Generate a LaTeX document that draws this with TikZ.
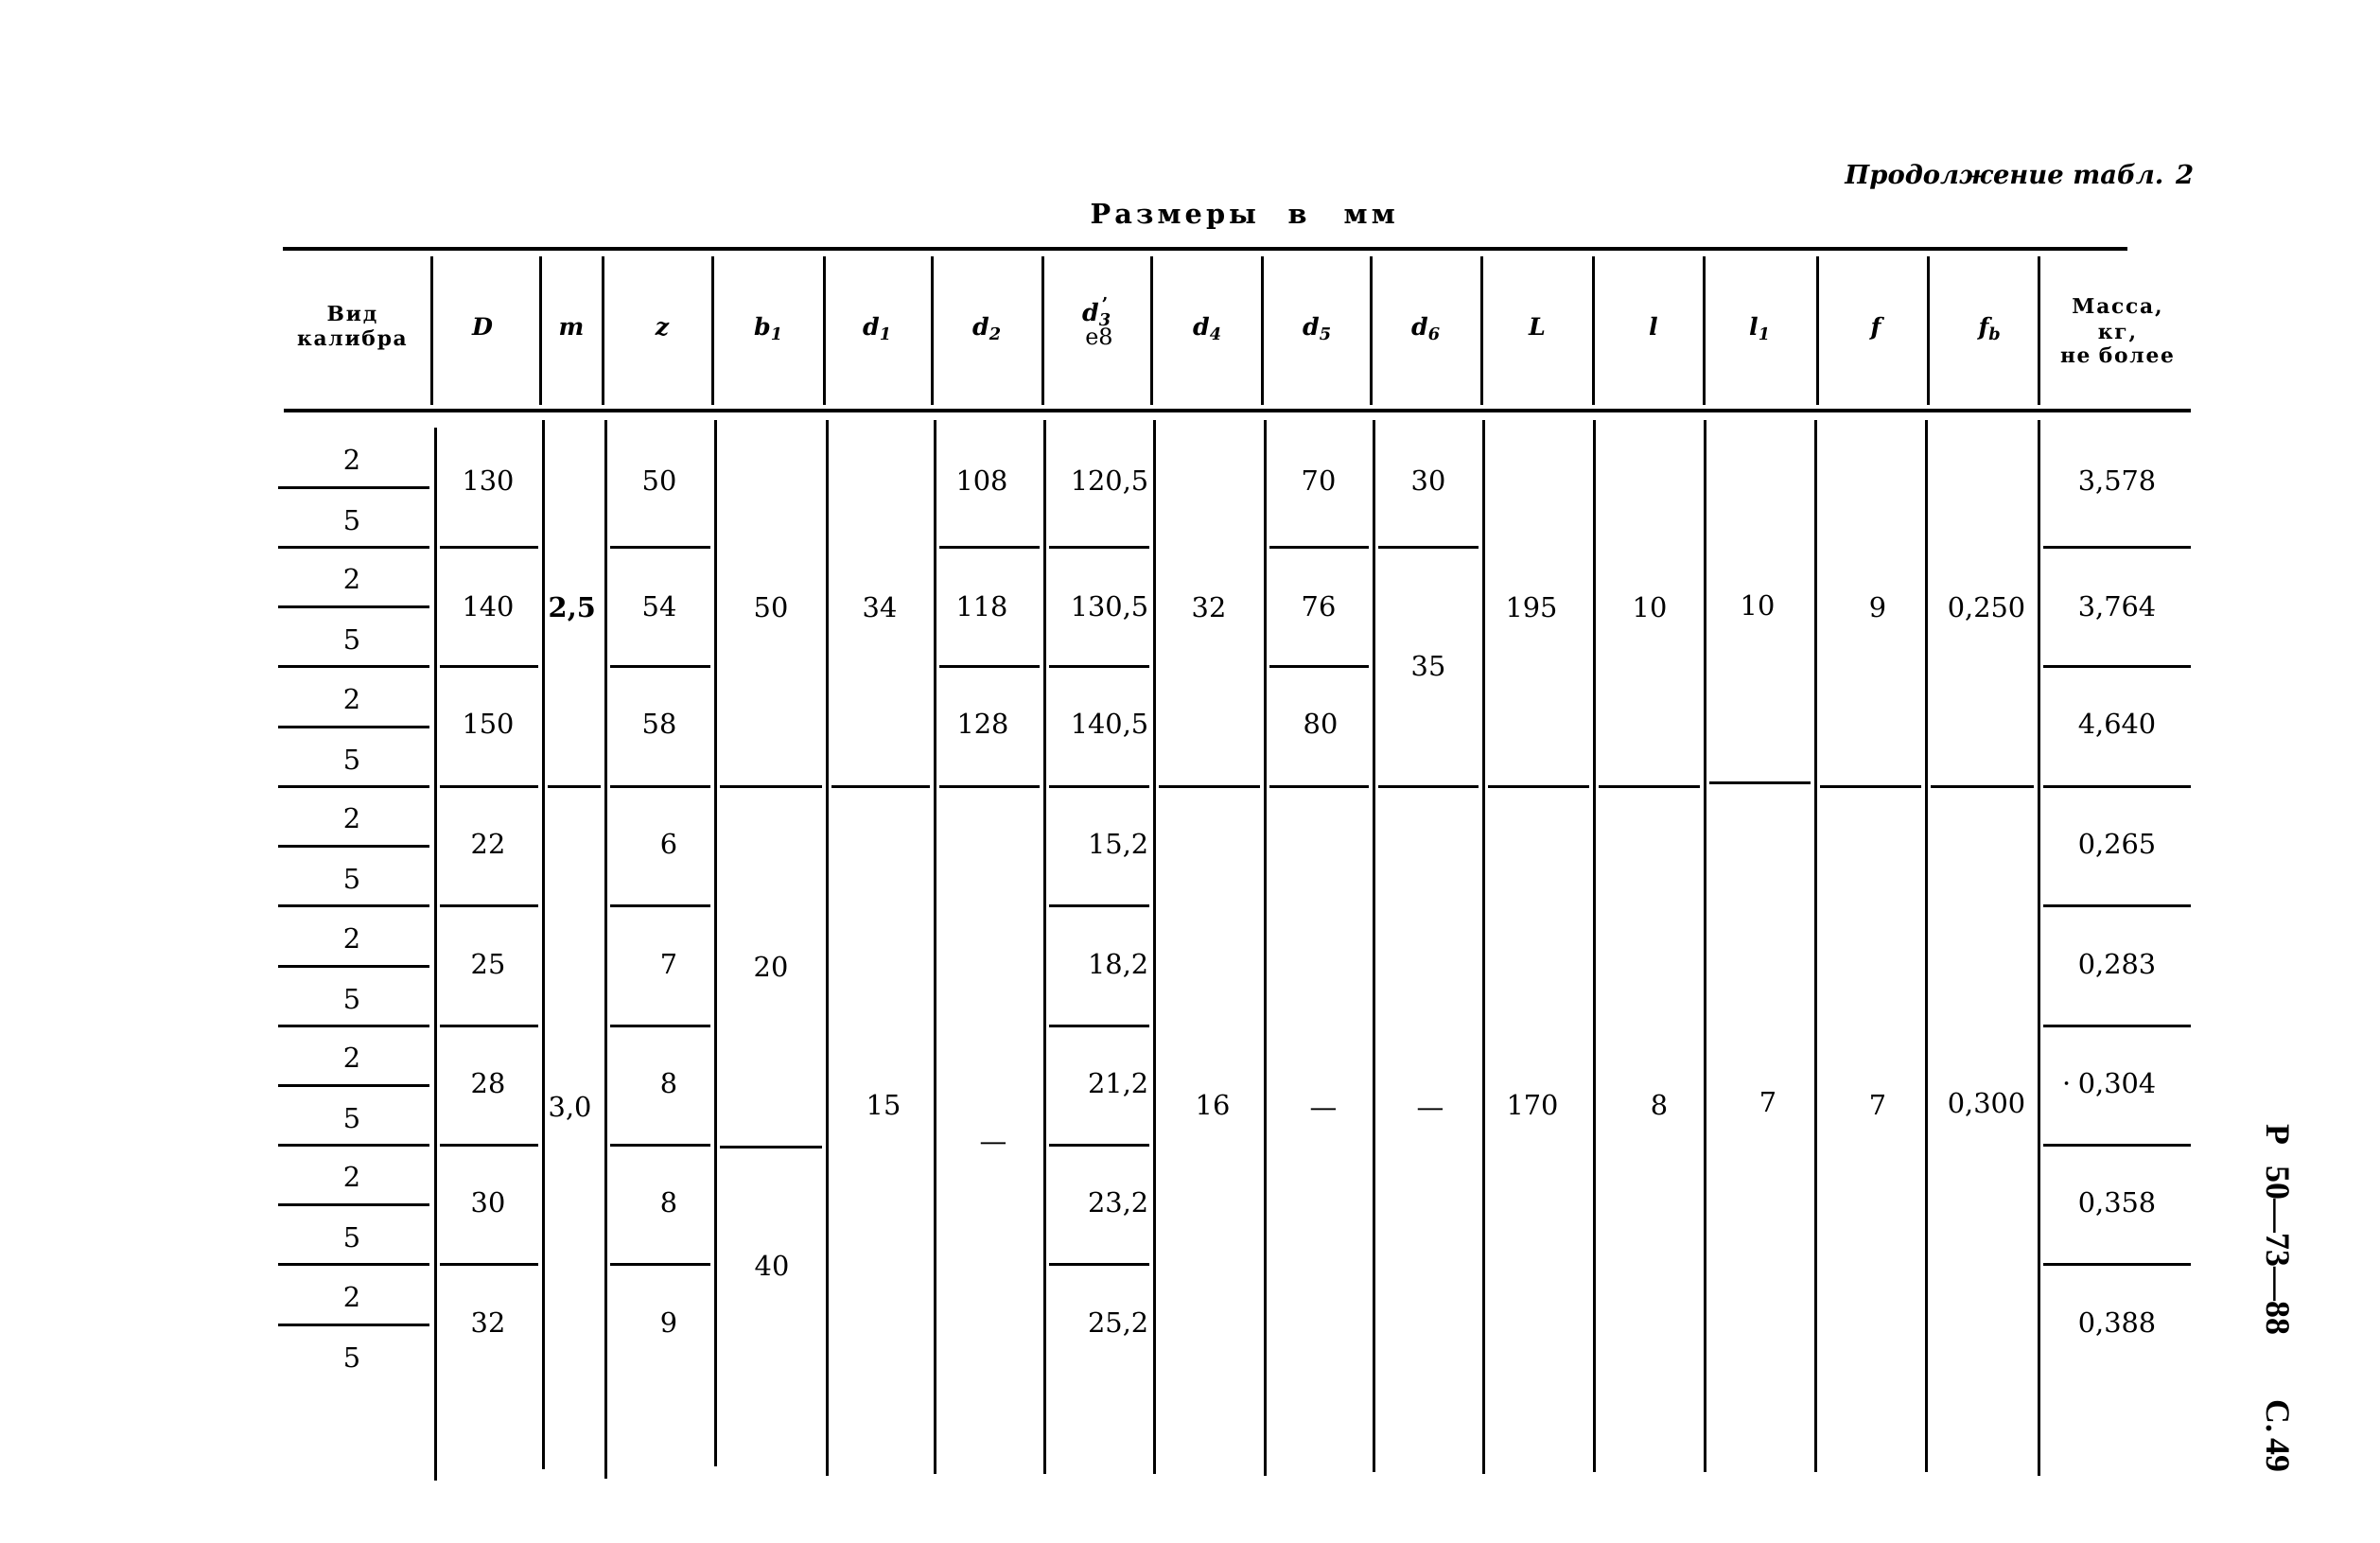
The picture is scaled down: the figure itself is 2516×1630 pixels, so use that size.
\documentclass[tikz,border=0pt]{standalone}
\usepackage{fontspec}
\setmainfont{DejaVu Serif}
\newfontfamily\sidefont{Liberation Serif}
\newfontfamily\hdrfont[LetterSpace=8]{DejaVu Serif}
\newfontfamily\dimfont[LetterSpace=14]{DejaVu Serif}
\newcommand\seg[3]{\draw[gridline] ({#1+5},#3) -- ({#2-5},#3);}
\begin{document}
\begin{tikzpicture}[x=0.1mm,y=-0.1mm,
  thickrule/.style={line width=0.45mm},
  gridline/.style={line width=0.3mm},
  val/.style={inner sep=0pt, text depth=0pt, font=\fontsize{8.2}{9}\selectfont},
  valw/.style={val, anchor=west},
  vale/.style={val, anchor=east},
  hdr/.style={inner sep=0pt, anchor=base, font=\hdrfont\bfseries\fontsize{6.2}{7}\selectfont},
  sym/.style={inner sep=0pt, anchor=base, font=\bfseries\itshape\fontsize{7.2}{8}\selectfont},
  dashmark/.style={inner sep=0pt, anchor=base, font=\fontsize{8.2}{9}\selectfont},
]
\useasboundingbox (0,0) rectangle (2516,1630);
\fill[white] (0,0) rectangle (2516,1630);

% titles
\node[anchor=base east, inner sep=0pt, font=\bfseries\itshape\fontsize{7.8}{9}\selectfont] (cont) at (2320,195) {Продолжение табл. 2};
\node[anchor=base west, inner sep=0pt, font=\dimfont\bfseries\fontsize{8.2}{9}\selectfont] (dimA) at (1152,237) {Размеры};
\node[anchor=base west, inner sep=0pt, font=\dimfont\bfseries\fontsize{8.2}{9}\selectfont] (dimB) at (1361,237) {в};
\node[anchor=base west, inner sep=0pt, font=\dimfont\bfseries\fontsize{8.2}{9}\selectfont] (dimC) at (1420,237) {мм};

% side text
\node[rotate=-90, anchor=west, inner sep=0pt, font=\sidefont\bfseries\fontsize{10.2}{12}\selectfont] (pg) at (2408,1188) {Р\hspace{0.6em}50—73—88\hspace{1.9em}С.\,49};

% rules
\draw[thickrule] (299,263) -- (2249,263);
\draw[thickrule] (300,434) -- (2316,434);

% header verticals
\foreach \x in {456,571,637,753,871,985,1102,1217,1334,1449,1566,1684,1801,1921,2038,2155}
  \draw[gridline] (\x,271) -- (\x,428);

% header texts
\node[hdr] (hv1) at (372,339) {Вид};
\node[hdr] (hv2) at (372,366) {калибра};
\node[hdr] (hm1) at (2238,332) {Масса,};
\node[hdr] (hm2) at (2238,358) {кг,};
\node[hdr] (hm3) at (2238,383) {не более};

\node[sym] (hD) at (510,355) {D};
\node[sym] (hmm) at (604,355) {m};
\node[sym] (hz) at (700,355) {z};
\node[sym] (hb) at (813,355) {b\textsubscript{1}};
\node[sym] (hd1) at (928,355) {d\textsubscript{1}};
\node[sym] (hd2) at (1044,355) {d\textsubscript{2}};
\node[sym] (hd3) at (1160,340) {d\textsubscript{3}};
\node[inner sep=0pt, anchor=base, font=\bfseries\fontsize{5.5}{6}\selectfont] (hd3a) at (1168,328) {’};
\node[inner sep=0pt, anchor=base, font=\fontsize{6.8}{7}\selectfont] (he8) at (1162,364) {e8};
\node[sym] (hd4) at (1277,355) {d\textsubscript{4}};
\node[sym] (hd5) at (1393,355) {d\textsubscript{5}};
\node[sym] (hd6) at (1508,355) {d\textsubscript{6}};
\node[sym] (hL) at (1625,355) {L};
\node[sym] (hl) at (1748,355) {l};
\node[sym] (hl1) at (1861,355) {l\textsubscript{1}};
\node[sym] (hf) at (1983,355) {f};
\node[sym] (hfb) at (2104,355) {f\textsubscript{b}};

% body verticals
\foreach \x/\t/\b in {460/452/1565,574/444/1553,640/444/1563,756/444/1550,874/444/1560,988/444/1558,1104/444/1558,1220/444/1558,1337/444/1560,1452/444/1556,1568/444/1558,1685/444/1556,1802/444/1556,1919/444/1556,2036/444/1556,2155/444/1560}
  \draw[gridline] (\x,\t) -- (\x,\b);

% first column: fractions 2/5
\foreach \y [count=\i] in {515,641,768,894,1021,1147,1273,1400} {
  \draw[gridline] (294,\y) -- (454,\y);
  \node[val] (two\i) at (372,\y-29) {2};
  \node[val] (five\i) at (372,\y+35) {5};
}
\foreach \y in {578,704,831,957,1084,1210,1336}
  \draw[gridline] (294,\y) -- (454,\y);

% separators per column
\foreach \y in {578,704,831,957,1084,1210,1336} {
  \seg{460}{574}{\y}
  \seg{640}{756}{\y}
  \seg{1104}{1220}{\y}
  \draw[gridline] (2160,\y) -- (2316,\y);
}
\seg{574}{640}{831}
\seg{756}{874}{831}
\seg{756}{874}{1212}
\seg{874}{988}{831}
\foreach \y in {578,704,831} {
  \seg{988}{1104}{\y}
  \seg{1337}{1452}{\y}
}
\seg{1220}{1337}{831}
\seg{1452}{1568}{578}
\seg{1452}{1568}{831}
\seg{1568}{1685}{831}
\seg{1685}{1802}{831}
\seg{1802}{1919}{827}
\seg{1919}{2036}{831}
\seg{2036}{2155}{831}

% D column
\foreach \v/\y [count=\i] in {130/508,140/641,150/765,22/892,25/1019,28/1145,30/1271,32/1398}
  \node[val] (D\i) at (516,\y) {\v};
% m column
\node[valw, font=\bfseries\fontsize{8.2}{9}\selectfont] (m1) at (579,642) {2,5};
\node[valw] (m2) at (579,1170) {3,0};
% z column
\foreach \v/\x/\y [count=\i] in {50/697/508,54/697/641,58/697/765,6/707/892,7/707/1019,8/707/1145,8/707/1271,9/707/1398}
  \node[val] (z\i) at (\x,\y) {\v};
% b1
\node[val] (b1) at (815,642) {50};
\node[val] (b2) at (815,1022) {20};
\node[val] (b3) at (816,1338) {40};
% d1
\node[val] (da1) at (930,642) {34};
\node[val] (da2) at (934,1168) {15};
% d2
\node[val] (db1) at (1038,508) {108};
\node[val] (db2) at (1038,641) {118};
\node[val] (db3) at (1039,765) {128};
\node[dashmark] (db4) at (1050,1216) {—};
% d3
\foreach \v/\y [count=\i] in {{120,5}/508,{130,5}/641,{140,5}/765,{15,2}/892,{18,2}/1019,{21,2}/1145,{23,2}/1271,{25,2}/1398}
  \node[vale] (dc\i) at (1215,\y) {\v};
% d4
\node[val] (dd1) at (1278,642) {32};
\node[val] (dd2) at (1282,1168) {16};
% d5
\node[val] (de1) at (1394,508) {70};
\node[val] (de2) at (1394,641) {76};
\node[val] (de3) at (1396,765) {80};
\node[dashmark] (de4) at (1399,1180) {—};
% d6
\node[val] (df1) at (1510,508) {30};
\node[val] (df2) at (1510,704) {35};
\node[dashmark] (df3) at (1512,1180) {—};
% L
\node[val] (L1) at (1619,642) {195};
\node[val] (L2) at (1620,1168) {170};
% l
\node[val] (l1) at (1744,642) {10};
\node[val] (l2) at (1754,1168) {8};
% l1
\node[val] (la1) at (1858,640) {10};
\node[val] (la2) at (1869,1165) {7};
% f
\node[val] (f1) at (1985,642) {9};
\node[val] (f2) at (1985,1168) {7};
% fb
\node[val] (fb1) at (2100,642) {0,250};
\node[val] (fb2) at (2100,1166) {0,300};
% mass
\foreach \v/\y [count=\i] in {{3,578}/508,{3,764}/641,{4,640}/765,{0,265}/892,{0,283}/1019,{0,304}/1145,{0,358}/1271,{0,388}/1398}
  \node[val] (M\i) at (2238,\y) {\v};
\node[inner sep=0pt, anchor=base east, font=\fontsize{8.2}{9}\selectfont] (Mdot) at ([xshift=-0.6mm]M6.base west) {·};
\end{tikzpicture}
\end{document}
